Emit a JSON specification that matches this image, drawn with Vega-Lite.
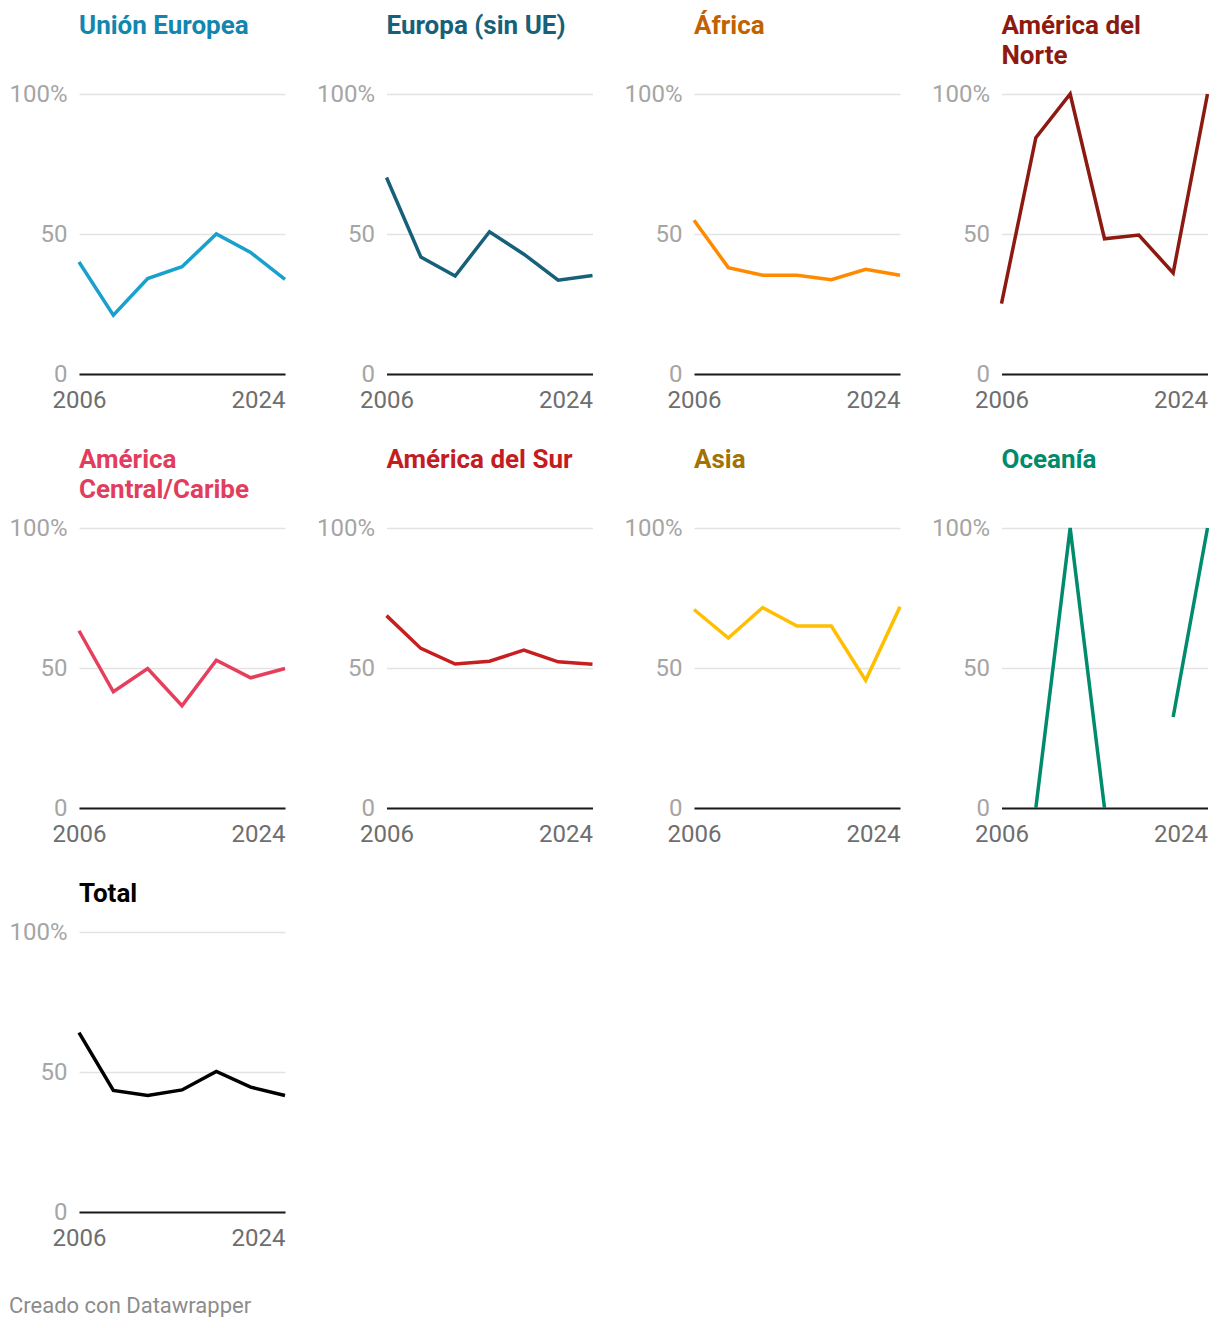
{
  "$schema": "https://vega.github.io/schema/vega-lite/v6.json",
  "padding": {"left": 8, "top": 13, "right": 0, "bottom": 0},
  "autosize": {"type": "pad"},
  "background": "white",
  "datasets": {
    "d": [
      {"region": "Unión Europea", "year": 2006, "value": 40.0},
      {"region": "Unión Europea", "year": 2009, "value": 21.0},
      {"region": "Unión Europea", "year": 2012, "value": 34.1},
      {"region": "Unión Europea", "year": 2015, "value": 38.3},
      {"region": "Unión Europea", "year": 2018, "value": 50.0},
      {"region": "Unión Europea", "year": 2021, "value": 43.4},
      {"region": "Unión Europea", "year": 2024, "value": 33.8},
      {"region": "Europa (sin UE)", "year": 2006, "value": 70.2},
      {"region": "Europa (sin UE)", "year": 2009, "value": 41.8},
      {"region": "Europa (sin UE)", "year": 2012, "value": 35.0},
      {"region": "Europa (sin UE)", "year": 2015, "value": 50.8},
      {"region": "Europa (sin UE)", "year": 2018, "value": 42.8},
      {"region": "Europa (sin UE)", "year": 2021, "value": 33.5},
      {"region": "Europa (sin UE)", "year": 2024, "value": 35.2},
      {"region": "África", "year": 2006, "value": 54.9},
      {"region": "África", "year": 2009, "value": 38.0},
      {"region": "África", "year": 2012, "value": 35.3},
      {"region": "África", "year": 2015, "value": 35.3},
      {"region": "África", "year": 2018, "value": 33.7},
      {"region": "África", "year": 2021, "value": 37.4},
      {"region": "África", "year": 2024, "value": 35.3},
      {"region": "América del Norte", "year": 2006, "value": 25.1},
      {"region": "América del Norte", "year": 2009, "value": 84.4},
      {"region": "América del Norte", "year": 2012, "value": 100},
      {"region": "América del Norte", "year": 2015, "value": 48.3},
      {"region": "América del Norte", "year": 2018, "value": 49.6},
      {"region": "América del Norte", "year": 2021, "value": 36.1},
      {"region": "América del Norte", "year": 2024, "value": 100},
      {"region": "América Central/Caribe", "year": 2006, "value": 63.3},
      {"region": "América Central/Caribe", "year": 2009, "value": 41.5},
      {"region": "América Central/Caribe", "year": 2012, "value": 49.8},
      {"region": "América Central/Caribe", "year": 2015, "value": 36.5},
      {"region": "América Central/Caribe", "year": 2018, "value": 52.8},
      {"region": "América Central/Caribe", "year": 2021, "value": 46.5},
      {"region": "América Central/Caribe", "year": 2024, "value": 49.8},
      {"region": "América del Sur", "year": 2006, "value": 68.7},
      {"region": "América del Sur", "year": 2009, "value": 57.0},
      {"region": "América del Sur", "year": 2012, "value": 51.4},
      {"region": "América del Sur", "year": 2015, "value": 52.4},
      {"region": "América del Sur", "year": 2018, "value": 56.4},
      {"region": "América del Sur", "year": 2021, "value": 52.2},
      {"region": "América del Sur", "year": 2024, "value": 51.3},
      {"region": "Asia", "year": 2006, "value": 70.9},
      {"region": "Asia", "year": 2009, "value": 60.7},
      {"region": "Asia", "year": 2012, "value": 71.6},
      {"region": "Asia", "year": 2015, "value": 65.0},
      {"region": "Asia", "year": 2018, "value": 65.0},
      {"region": "Asia", "year": 2021, "value": 45.6},
      {"region": "Asia", "year": 2024, "value": 71.9},
      {"region": "Oceanía", "year": 2006, "value": null},
      {"region": "Oceanía", "year": 2009, "value": 0},
      {"region": "Oceanía", "year": 2012, "value": 100},
      {"region": "Oceanía", "year": 2015, "value": 0},
      {"region": "Oceanía", "year": 2018, "value": null},
      {"region": "Oceanía", "year": 2021, "value": 32.5},
      {"region": "Oceanía", "year": 2024, "value": 100},
      {"region": "Total", "year": 2006, "value": 64.1},
      {"region": "Total", "year": 2009, "value": 43.4},
      {"region": "Total", "year": 2012, "value": 41.6},
      {"region": "Total", "year": 2015, "value": 43.6},
      {"region": "Total", "year": 2018, "value": 50.2},
      {"region": "Total", "year": 2021, "value": 44.6},
      {"region": "Total", "year": 2024, "value": 41.6}
    ]
  },
  "title": {
    "text": "Creado con Datawrapper",
    "orient": "bottom",
    "anchor": "start",
    "frame": "bounds",
    "fontSize": 22,
    "fontWeight": "normal",
    "color": "#8c8c8c",
    "offset": 46
  },
  "columns": 4,
  "spacing": {"row": 35, "column": 23.5},
  "concat": [
    {
      "title": {"text": "Unión Europea", "color": "#1386b0", "offset": 43},
      "width": 206, "height": 280,
      "data": {"name": "d"},
      "transform": [{"filter": "datum.region === 'Unión Europea'"}],
      "mark": {"type": "line", "color": "#18a1cd", "strokeWidth": 3.5, "invalid": "break-paths-show-domains"},
      "encoding": {
        "x": {"field": "year", "type": "quantitative", "scale": {"domain": [2006, 2024], "nice": false, "zero": false},
              "axis": {"values": [2006, 2024], "format": "d", "title": null, "labelAlign": {"condition": {"test": "datum.value === 2024", "value": "right"}, "value": "center"}}},
        "y": {"field": "value", "type": "quantitative", "scale": {"domain": [0, 100], "nice": false},
              "axis": {"values": [0, 50, 100], "title": null, "labelExpr": "datum.value === 100 ? '100%' : datum.label"}}
      }
    },
    {
      "title": {"text": "Europa (sin UE)", "color": "#17607a", "offset": 43},
      "width": 206, "height": 280,
      "data": {"name": "d"},
      "transform": [{"filter": "datum.region === 'Europa (sin UE)'"}],
      "mark": {"type": "line", "color": "#17607a", "strokeWidth": 3.5, "invalid": "break-paths-show-domains"},
      "encoding": {
        "x": {"field": "year", "type": "quantitative", "scale": {"domain": [2006, 2024], "nice": false, "zero": false},
              "axis": {"values": [2006, 2024], "format": "d", "title": null, "labelAlign": {"condition": {"test": "datum.value === 2024", "value": "right"}, "value": "center"}}},
        "y": {"field": "value", "type": "quantitative", "scale": {"domain": [0, 100], "nice": false},
              "axis": {"values": [0, 50, 100], "title": null, "labelExpr": "datum.value === 100 ? '100%' : datum.label"}}
      }
    },
    {
      "title": {"text": "África", "color": "#c26100", "offset": 43},
      "width": 206, "height": 280,
      "data": {"name": "d"},
      "transform": [{"filter": "datum.region === 'África'"}],
      "mark": {"type": "line", "color": "#ff8a00", "strokeWidth": 3.5, "invalid": "break-paths-show-domains"},
      "encoding": {
        "x": {"field": "year", "type": "quantitative", "scale": {"domain": [2006, 2024], "nice": false, "zero": false},
              "axis": {"values": [2006, 2024], "format": "d", "title": null, "labelAlign": {"condition": {"test": "datum.value === 2024", "value": "right"}, "value": "center"}}},
        "y": {"field": "value", "type": "quantitative", "scale": {"domain": [0, 100], "nice": false},
              "axis": {"values": [0, 50, 100], "title": null, "labelExpr": "datum.value === 100 ? '100%' : datum.label"}}
      }
    },
    {
      "title": {"text": ["América del", "Norte"], "color": "#8c1a10", "offset": 13},
      "width": 206, "height": 280,
      "data": {"name": "d"},
      "transform": [{"filter": "datum.region === 'América del Norte'"}],
      "mark": {"type": "line", "color": "#8c1a10", "strokeWidth": 3.5, "invalid": "break-paths-show-domains"},
      "encoding": {
        "x": {"field": "year", "type": "quantitative", "scale": {"domain": [2006, 2024], "nice": false, "zero": false},
              "axis": {"values": [2006, 2024], "format": "d", "title": null, "labelAlign": {"condition": {"test": "datum.value === 2024", "value": "right"}, "value": "center"}}},
        "y": {"field": "value", "type": "quantitative", "scale": {"domain": [0, 100], "nice": false},
              "axis": {"values": [0, 50, 100], "title": null, "labelExpr": "datum.value === 100 ? '100%' : datum.label"}}
      }
    },
    {
      "title": {"text": ["América", "Central/Caribe"], "color": "#e23d5c", "offset": 13},
      "width": 206, "height": 280,
      "data": {"name": "d"},
      "transform": [{"filter": "datum.region === 'América Central/Caribe'"}],
      "mark": {"type": "line", "color": "#e63f5e", "strokeWidth": 3.5, "invalid": "break-paths-show-domains"},
      "encoding": {
        "x": {"field": "year", "type": "quantitative", "scale": {"domain": [2006, 2024], "nice": false, "zero": false},
              "axis": {"values": [2006, 2024], "format": "d", "title": null, "labelAlign": {"condition": {"test": "datum.value === 2024", "value": "right"}, "value": "center"}}},
        "y": {"field": "value", "type": "quantitative", "scale": {"domain": [0, 100], "nice": false},
              "axis": {"values": [0, 50, 100], "title": null, "labelExpr": "datum.value === 100 ? '100%' : datum.label"}}
      }
    },
    {
      "title": {"text": "América del Sur", "color": "#c41c1f", "offset": 43},
      "width": 206, "height": 280,
      "data": {"name": "d"},
      "transform": [{"filter": "datum.region === 'América del Sur'"}],
      "mark": {"type": "line", "color": "#c71e1f", "strokeWidth": 3.5, "invalid": "break-paths-show-domains"},
      "encoding": {
        "x": {"field": "year", "type": "quantitative", "scale": {"domain": [2006, 2024], "nice": false, "zero": false},
              "axis": {"values": [2006, 2024], "format": "d", "title": null, "labelAlign": {"condition": {"test": "datum.value === 2024", "value": "right"}, "value": "center"}}},
        "y": {"field": "value", "type": "quantitative", "scale": {"domain": [0, 100], "nice": false},
              "axis": {"values": [0, 50, 100], "title": null, "labelExpr": "datum.value === 100 ? '100%' : datum.label"}}
      }
    },
    {
      "title": {"text": "Asia", "color": "#a37200", "offset": 43},
      "width": 206, "height": 280,
      "data": {"name": "d"},
      "transform": [{"filter": "datum.region === 'Asia'"}],
      "mark": {"type": "line", "color": "#ffbf00", "strokeWidth": 3.5, "invalid": "break-paths-show-domains"},
      "encoding": {
        "x": {"field": "year", "type": "quantitative", "scale": {"domain": [2006, 2024], "nice": false, "zero": false},
              "axis": {"values": [2006, 2024], "format": "d", "title": null, "labelAlign": {"condition": {"test": "datum.value === 2024", "value": "right"}, "value": "center"}}},
        "y": {"field": "value", "type": "quantitative", "scale": {"domain": [0, 100], "nice": false},
              "axis": {"values": [0, 50, 100], "title": null, "labelExpr": "datum.value === 100 ? '100%' : datum.label"}}
      }
    },
    {
      "title": {"text": "Oceanía", "color": "#008b6c", "offset": 43},
      "width": 206, "height": 280,
      "data": {"name": "d"},
      "transform": [{"filter": "datum.region === 'Oceanía'"}],
      "mark": {"type": "line", "color": "#008b6c", "strokeWidth": 3.5, "invalid": "break-paths-show-domains"},
      "encoding": {
        "x": {"field": "year", "type": "quantitative", "scale": {"domain": [2006, 2024], "nice": false, "zero": false},
              "axis": {"values": [2006, 2024], "format": "d", "title": null, "labelAlign": {"condition": {"test": "datum.value === 2024", "value": "right"}, "value": "center"}}},
        "y": {"field": "value", "type": "quantitative", "scale": {"domain": [0, 100], "nice": false},
              "axis": {"values": [0, 50, 100], "title": null, "labelExpr": "datum.value === 100 ? '100%' : datum.label"}}
      }
    },
    {
      "title": {"text": "Total", "color": "#000000", "offset": 13},
      "width": 206, "height": 280,
      "data": {"name": "d"},
      "transform": [{"filter": "datum.region === 'Total'"}],
      "mark": {"type": "line", "color": "#000000", "strokeWidth": 3.5, "invalid": "break-paths-show-domains"},
      "encoding": {
        "x": {"field": "year", "type": "quantitative", "scale": {"domain": [2006, 2024], "nice": false, "zero": false},
              "axis": {"values": [2006, 2024], "format": "d", "title": null, "labelAlign": {"condition": {"test": "datum.value === 2024", "value": "right"}, "value": "center"}}},
        "y": {"field": "value", "type": "quantitative", "scale": {"domain": [0, 100], "nice": false},
              "axis": {"values": [0, 50, 100], "title": null, "labelExpr": "datum.value === 100 ? '100%' : datum.label"}}
      }
    }
  ],
  "config": {
    "font": "Roboto",
    "view": {"stroke": null},
    "title": {"anchor": "start", "frame": "group", "fontSize": 26, "fontWeight": "bold", "font": "Roboto", "lineHeight": 30},
    "axisX": {"grid": false, "domain": true, "domainColor": "#1a1a1a", "domainWidth": 2, "ticks": false, "tickSize": 0, "labelFontSize": 24, "labelColor": "#6e6e6e", "labelPadding": 14, "labelFont": "Roboto"},
    "axisY": {"grid": true, "gridColor": "#e3e3e3", "gridWidth": 1.5, "domain": false, "ticks": false, "tickSize": 0, "labelFontSize": 24, "labelColor": "#a5a5a5", "labelPadding": 12, "labelBaseline": "middle", "labelFont": "Roboto"}
  }
}
